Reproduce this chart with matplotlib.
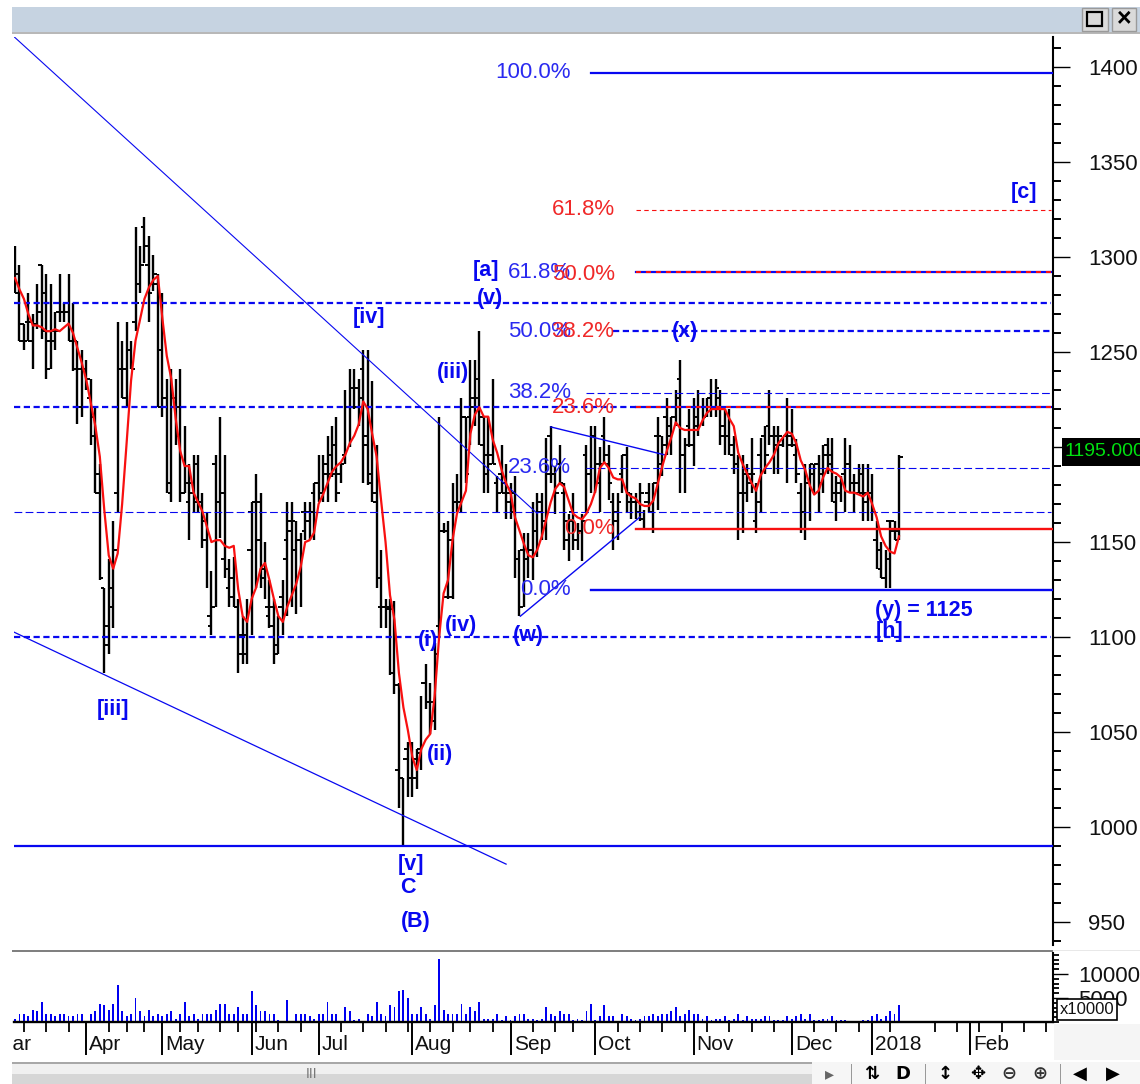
import matplotlib
matplotlib.use("Agg")
import matplotlib.pyplot as plt
import matplotlib.patches as patches
import matplotlib.ticker as mticker

plt.rcParams['font.family'] = ['Liberation Sans', 'DejaVu Sans']

# daily bars
highs = [1306, 1296, 1265, 1281, 1270, 1286, 1296, 1291, 1286, 1271,
         1291, 1276, 1291, 1276, 1256, 1251, 1246, 1236, 1221, 1191,
         1126, 1141, 1161, 1266, 1256, 1266, 1256, 1316, 1306, 1321,
         1311, 1301, 1291, 1281, 1236, 1241, 1236, 1241, 1211, 1191,
         1196, 1196, 1176, 1166, 1135, 1196, 1216, 1196, 1141, 1142,
         1120, 1111, 1120, 1171, 1186, 1176, 1150, 1130, 1120, 1111,
         1130, 1171, 1171, 1161, 1155, 1171, 1171, 1181, 1196, 1196,
         1206, 1211, 1216, 1191, 1230, 1241, 1241, 1236, 1251, 1251,
         1235, 1201, 1146, 1120, 1120, 1119, 1076, 1026, 1045, 1045,
         1041, 1069, 1086, 1076, 1097, 1216, 1160, 1161, 1181, 1186,
         1226, 1216, 1246, 1246, 1261, 1216, 1216, 1236, 1185, 1201,
         1191, 1181, 1185, 1146, 1155, 1155, 1171, 1176, 1176, 1205,
         1211, 1190, 1201, 1181, 1165, 1176, 1160, 1165, 1201, 1211,
         1211, 1200, 1216, 1201, 1176, 1176, 1196, 1200, 1176, 1176,
         1181, 1167, 1181, 1181, 1216, 1206, 1226, 1216, 1230, 1246,
         1205, 1220, 1226, 1230, 1226, 1226, 1236, 1236, 1230, 1220,
         1220, 1206, 1196, 1196, 1191, 1205, 1181, 1205, 1211, 1230,
         1211, 1211, 1205, 1226, 1220, 1204, 1181, 1191, 1191, 1191,
         1196, 1201, 1205, 1205, 1185, 1185, 1205, 1201, 1186, 1191,
         1191, 1191, 1186, 1161, 1150, 1146, 1161, 1161, 1196]
lows = [1281, 1256, 1251, 1256, 1241, 1262, 1257, 1236, 1241, 1251,
        1266, 1266, 1256, 1240, 1212, 1216, 1230, 1201, 1176, 1130,
        1081, 1091, 1105, 1166, 1226, 1221, 1241, 1261, 1281, 1297,
        1266, 1282, 1221, 1216, 1176, 1171, 1201, 1171, 1176, 1151,
        1166, 1166, 1147, 1126, 1101, 1116, 1152, 1131, 1116, 1116,
        1081, 1086, 1086, 1101, 1126, 1126, 1120, 1105, 1086, 1091,
        1101, 1111, 1116, 1112, 1116, 1151, 1151, 1151, 1171, 1171,
        1171, 1184, 1171, 1181, 1191, 1200, 1220, 1211, 1181, 1180,
        1171, 1126, 1105, 1105, 1080, 1070, 1010, 990, 1016, 1016,
        1020, 1030, 1062, 1049, 1051, 1100, 1155, 1120, 1120, 1166,
        1166, 1181, 1201, 1211, 1201, 1176, 1176, 1191, 1166, 1176,
        1162, 1162, 1131, 1111, 1116, 1131, 1130, 1142, 1151, 1151,
        1181, 1165, 1181, 1146, 1140, 1146, 1146, 1140, 1166, 1176,
        1176, 1166, 1191, 1172, 1146, 1151, 1176, 1166, 1162, 1162,
        1161, 1157, 1166, 1155, 1167, 1185, 1196, 1196, 1211, 1176,
        1176, 1200, 1190, 1206, 1211, 1216, 1216, 1216, 1201, 1196,
        1196, 1186, 1151, 1155, 1171, 1176, 1155, 1166, 1186, 1201,
        1186, 1186, 1200, 1181, 1200, 1181, 1155, 1151, 1161, 1176,
        1166, 1176, 1186, 1171, 1161, 1171, 1166, 1176, 1166, 1176,
        1161, 1161, 1161, 1136, 1131, 1126, 1126, 1151, 1151]
opens = [1301, 1291, 1265, 1266, 1266, 1265, 1296, 1281, 1256, 1261,
         1271, 1271, 1276, 1256, 1256, 1241, 1241, 1226, 1216, 1186,
         1126, 1106, 1126, 1176, 1241, 1241, 1251, 1266, 1286, 1316,
         1296, 1286, 1286, 1251, 1226, 1176, 1226, 1221, 1176, 1171,
         1181, 1191, 1171, 1151, 1106, 1191, 1171, 1141, 1126, 1131,
         1116, 1101, 1101, 1166, 1171, 1151, 1136, 1111, 1116, 1096,
         1121, 1151, 1156, 1146, 1151, 1156, 1161, 1176, 1181, 1176,
         1191, 1196, 1186, 1186, 1196, 1221, 1231, 1231, 1241, 1201,
         1181, 1171, 1116, 1116, 1115, 1115, 1030, 1026, 1041, 1026,
         1036, 1039, 1076, 1066, 1056, 1106, 1156, 1121, 1151, 1171,
         1171, 1216, 1216, 1221, 1226, 1201, 1186, 1196, 1181, 1186,
         1181, 1171, 1176, 1141, 1146, 1141, 1146, 1156, 1166, 1161,
         1206, 1186, 1191, 1176, 1151, 1161, 1151, 1156, 1196, 1186,
         1206, 1181, 1206, 1191, 1171, 1161, 1186, 1196, 1171, 1171,
         1171, 1162, 1176, 1166, 1206, 1191, 1216, 1206, 1221, 1236,
         1196, 1211, 1201, 1216, 1221, 1221, 1226, 1221, 1226, 1211,
         1206, 1196, 1191, 1176, 1176, 1186, 1161, 1196, 1206, 1211,
         1206, 1206, 1201, 1221, 1206, 1196, 1176, 1166, 1181, 1186,
         1191, 1186, 1201, 1191, 1171, 1181, 1186, 1191, 1181, 1181,
         1186, 1171, 1176, 1151, 1136, 1131, 1161, 1156, 1156]
closes = [1281, 1256, 1256, 1256, 1265, 1271, 1261, 1241, 1256, 1261,
          1271, 1271, 1256, 1241, 1221, 1221, 1236, 1206, 1176, 1131,
          1096, 1116, 1146, 1241, 1226, 1251, 1241, 1276, 1296, 1306,
          1281, 1291, 1221, 1221, 1181, 1221, 1206, 1176, 1181, 1176,
          1171, 1171, 1161, 1111, 1116, 1171, 1176, 1136, 1121, 1116,
          1091, 1091, 1146, 1171, 1171, 1131, 1116, 1106, 1091, 1116,
          1141, 1161, 1161, 1151, 1166, 1166, 1166, 1181, 1176, 1186,
          1186, 1201, 1176, 1191, 1221, 1221, 1221, 1226, 1206, 1186,
          1176, 1131, 1116, 1116, 1081, 1075, 1026, 1036, 1026, 1026,
          1041, 1076, 1066, 1066, 1091, 1156, 1156, 1121, 1171, 1171,
          1216, 1186, 1226, 1236, 1216, 1196, 1191, 1191, 1176, 1176,
          1176, 1166, 1141, 1116, 1141, 1146, 1156, 1171, 1161, 1186,
          1186, 1176, 1181, 1161, 1166, 1151, 1156, 1161, 1186, 1206,
          1191, 1191, 1196, 1181, 1166, 1171, 1196, 1176, 1171, 1166,
          1176, 1171, 1166, 1181, 1206, 1201, 1211, 1216, 1226, 1196,
          1201, 1201, 1211, 1221, 1216, 1226, 1221, 1231, 1206, 1206,
          1201, 1191, 1176, 1186, 1181, 1186, 1171, 1206, 1196, 1206,
          1201, 1206, 1206, 1201, 1201, 1186, 1166, 1181, 1191, 1191,
          1181, 1196, 1196, 1176, 1176, 1186, 1191, 1181, 1176, 1176,
          1176, 1176, 1166, 1146, 1131, 1141, 1161, 1151, 1195]
moving_avg = [1289, 1283, 1278, 1270, 1264, 1264, 1263, 1261, 1261, 1262,
              1261, 1263, 1265, 1260, 1252, 1244, 1235, 1223, 1211, 1195,
              1167, 1143, 1136, 1144, 1170, 1202, 1235, 1256, 1267, 1278,
              1284, 1288, 1290, 1268, 1248, 1236, 1215, 1198, 1190, 1190,
              1176, 1171, 1166, 1158, 1150, 1151, 1151, 1148, 1147, 1148,
              1125, 1111, 1108, 1120, 1126, 1136, 1139, 1130, 1120, 1111,
              1108, 1116, 1122, 1128, 1137, 1150, 1151, 1155, 1170, 1175,
              1181, 1187, 1190, 1192, 1196, 1202, 1206, 1212, 1224, 1220,
              1207, 1195, 1172, 1150, 1122, 1109, 1081, 1063, 1051, 1037,
              1030, 1041, 1046, 1049, 1069, 1100, 1123, 1130, 1151, 1165,
              1171, 1177, 1207, 1217, 1221, 1216, 1216, 1204, 1197, 1188,
              1181, 1176, 1163, 1156, 1149, 1143, 1142, 1146, 1153, 1162,
              1171, 1178, 1181, 1179, 1172, 1165, 1163, 1162, 1165, 1170,
              1177, 1189, 1192, 1189, 1184, 1183, 1183, 1176, 1174, 1173,
              1170, 1169, 1169, 1172, 1181, 1190, 1198, 1205, 1213, 1210,
              1209, 1209, 1209, 1209, 1214, 1218, 1220, 1220, 1220, 1220,
              1215, 1211, 1197, 1191, 1186, 1181, 1177, 1185, 1189, 1192,
              1196, 1202, 1205, 1208, 1207, 1202, 1193, 1188, 1180, 1175,
              1177, 1184, 1189, 1187, 1186, 1184, 1177, 1176, 1176, 1175,
              1174, 1176, 1170, 1163, 1153, 1148, 1145, 1144, 1153]
volumes = [700, 1600, 1600, 1200, 2600, 2300, 4100, 1700, 1600, 1200,
           1700, 1600, 1200, 1200, 1600, 1600, 150, 1600, 2300, 3700,
           3500, 2600, 3700, 7800, 2300, 1200, 1600, 5100, 2300, 1200,
           2600, 1200, 1600, 1200, 1600, 2300, 700, 1600, 4100, 1200,
           1700, 700, 1600, 1600, 1600, 2600, 3700, 3700, 1700, 1700,
           3100, 1600, 1600, 6400, 3500, 2300, 2300, 1600, 1700, 350,
           200, 4500, 0, 1600, 1600, 1600, 1200, 700, 1700, 1700,
           4100, 1600, 1700, 0, 3100, 2300, 350, 700, 0, 1700,
           1200, 4100, 1700, 1200, 3500, 3100, 6400, 6600, 4900, 1600,
           1700, 3100, 1700, 700, 3500, 13200, 2600, 1700, 1700, 1700,
           3700, 1600, 3100, 2300, 4100, 700, 700, 700, 1700, 350,
           1200, 350, 1200, 1600, 1600, 700, 700, 350, 700, 3100,
           1700, 1200, 2300, 1600, 1700, 500, 700, 350, 2300, 3700,
           350, 1200, 3500, 1200, 1200, 0, 1600, 1200, 700, 350,
           700, 1200, 1200, 1600, 1200, 1700, 1700, 2300, 3100, 1200,
           1600, 2600, 1600, 1600, 700, 1200, 350, 700, 700, 1200,
           350, 700, 1600, 350, 1200, 700, 700, 700, 1200, 1200,
           350, 350, 350, 1200, 700, 1200, 1700, 700, 1700, 350,
           350, 700, 700, 1200, 350, 350, 350, 200, 0, 0,
           350, 350, 1200, 1700, 700, 1200, 2300, 1600, 3500]

month_labels = ['Mar', 'Apr', 'May', 'Jun', 'Jul', 'Aug', 'Sep', 'Oct', 'Nov', 'Dec', '2018', 'Feb']
month_bars = [-5, 16, 33, 53, 68, 89, 111, 130, 152, 174, 192, 214]
week_bars = [2, 7, 12, 21, 25, 29, 37, 41, 46, 50, 54, 59, 64, 73, 78, 83, 88, 93, 98, 102,
             107, 116, 121, 125, 135, 140, 145, 150, 155, 160, 165, 170, 179, 184, 189,
             196, 206, 211, 216, 221, 226, 231]

# fibonacci levels and wave counts
full_dash = [1276, 1100]
thin_dash = [1228.5, 1189]
BLUE = '#0808F0'
RED = '#F81010'

fig = plt.figure(figsize=(11.4, 10.84), dpi=100, facecolor='white')


def px_rect(left, top, right, bottom):
    return [left / 1140, 1 - bottom / 1084, (right - left) / 1140, (bottom - top) / 1084]


ax = fig.add_axes(px_rect(14, 37, 1053, 945))
ax2 = fig.add_axes(px_rect(14, 953, 1053, 1022))
XMIN, XMAX = -0.22, 232.5
bars = list(range(len(highs)))

# price bars
ax.vlines(bars, lows, highs, color='black', lw=1.7, zorder=2)
ax.hlines(opens, [b - 0.8 for b in bars], bars, color='black', lw=1.4, zorder=2)
ax.hlines(closes, bars, [b + 0.8 for b in bars], color='black', lw=1.4, zorder=2)

for lev in full_dash:
    ax.plot([XMIN, XMAX - 0.5], [lev, lev], color=BLUE, lw=1.6, ls=(0, (2.8, 1.6)), zorder=3)
ax.plot([XMIN, 139], [1221, 1221], color=BLUE, lw=1.6, ls=(0, (2.8, 1.6)), zorder=3)
ax.plot([XMIN, XMAX - 0.5], [1166, 1166], color=BLUE, lw=0.8, ls=(0, (7, 3)), zorder=3)
for lev in thin_dash:
    ax.plot([128, XMAX - 0.5], [lev, lev], color=BLUE, lw=0.8, ls=(0, (7, 3)), zorder=3)
ax.plot([134, XMAX - 0.5], [1261, 1261], color=BLUE, lw=1.6, ls=(0, (2.8, 1.6)), zorder=3)
# red dashes sit on a solid blue line at the two shared levels
for lev in [1292, 1221]:
    ax.plot([139, XMAX - 0.5], [lev, lev], color=BLUE, lw=1.6, zorder=3)
    ax.plot([139, XMAX - 0.5], [lev, lev], color=RED, lw=1.5, ls=(0, (2.4, 2.4)), zorder=4)
ax.plot([139, XMAX - 0.5], [1324.8, 1324.8], color=RED, lw=0.8, ls=(0, (4, 3)), zorder=4)
ax.plot([139, XMAX], [1157, 1157], color=RED, lw=1.7, zorder=4)
ax.plot([129, XMAX], [1397, 1397], color=BLUE, lw=1.6, zorder=3)
ax.plot([129, XMAX], [1125, 1125], color=BLUE, lw=1.7, zorder=3)
ax.plot([XMIN, XMAX], [990, 990], color=BLUE, lw=1.6, zorder=3)

# trend lines
ax.plot([XMIN, 117], [1416, 1165], color=BLUE, lw=0.8, zorder=3)
ax.plot([XMIN, 110], [1102.6, 980.5], color=BLUE, lw=0.9, zorder=3)
ax.plot([120, 145.7], [1210.6, 1195.8], color=BLUE, lw=1.0, zorder=3)
ax.plot([113.2, 140], [1111, 1163.2], color=BLUE, lw=1.0, zorder=3)

ax.plot(bars, moving_avg, color=RED, lw=1.6, zorder=5)

pct_blue = [('100.0%', 1397), ('61.8%', 1292), ('50.0%', 1261), ('38.2%', 1228.5),
            ('23.6%', 1189), ('0.0%', 1125)]
pct_red = [('61.8%', 1324.8), ('50.0%', 1291), ('38.2%', 1261), ('23.6%', 1221), ('0.0%', 1157)]
for label, lev in pct_blue:
    ax.text(124.5, lev, label, color='#2A2AF0', fontsize=16, ha='right', va='center', zorder=6)
for label, lev in pct_red:
    ax.text(134.3, lev, label, color='#F02828', fontsize=16, ha='right', va='center', zorder=6)

wave_labels = [('[iv]', 79.4, 1268), ('[iii]', 22, 1062), ('[v]', 88.8, 980.5), ('C', 88, 968),
               ('(B)', 89.7, 950.5), ('(i)', 92.4, 1098), ('(ii)', 95.3, 1038), ('(iii)', 98, 1239),
               ('(iv)', 100, 1106), ('(v)', 106.3, 1278), ('(w)', 115, 1101), ('(x)', 150, 1261),
               ('[a]', 105.5, 1293), ('[h]', 196, 1103), ('[c]', 226, 1334)]
for label, xb, lev in wave_labels:
    ax.text(xb, lev, label, color=BLUE, fontsize=15.5, fontweight='bold', ha='center', va='center', zorder=6)
ax.text(203.5, 1114, '(y) = 1125', color=BLUE, fontsize=15.5, fontweight='bold', ha='center', va='center', zorder=6)

ax.set_xlim(XMIN, XMAX)
ax.set_ylim(1435.3 - 945 / 1.9, 1435.3 - 37 / 1.9)
for side in ['left', 'top', 'bottom']:
    ax.spines[side].set_visible(False)
ax.spines['right'].set_linewidth(1.5)
ax.set_xticks([])
ax.yaxis.tick_right()
ax.yaxis.set_major_locator(mticker.MultipleLocator(50))
ax.yaxis.set_minor_locator(mticker.MultipleLocator(10))
ax.tick_params(axis='y', which='major', length=12.2, width=1, pad=13, labelsize=16, labelcolor='#111111')
ax.tick_params(axis='y', which='minor', length=5.5, width=1.4)

# volume
ax2.bar(range(len(volumes)), volumes, width=0.42, color='#0000F0')
ax2.set_xlim(XMIN, XMAX)
ax2.set_ylim(0, 14375)
for side in ['left', 'top']:
    ax2.spines[side].set_visible(False)
ax2.spines['right'].set_linewidth(1.5)
ax2.spines['bottom'].set_linewidth(1.7)
ax2.yaxis.tick_right()
ax2.yaxis.set_major_locator(mticker.MultipleLocator(5000))
ax2.yaxis.set_minor_locator(mticker.MultipleLocator(1000))
ax2.set_yticks([5000, 10000])
ax2.tick_params(axis='y', which='major', length=11, width=1, pad=7, labelsize=16, labelcolor='#111111')
ax2.tick_params(axis='y', which='minor', length=4.5, width=1.3)
ax2.set_xticks([b for b in month_bars if b >= 0])
ax2.set_xticklabels([])
ax2.set_xticks(week_bars, minor=True)
ax2.tick_params(axis='x', which='major', length=24, width=1.4)
ax2.tick_params(axis='x', which='minor', length=7.5, width=1.3)
for label, b in zip(month_labels, month_bars):
    ax2.annotate(label, (b, 0), xycoords=('data', 'axes fraction'), xytext=(3, -22),
                 textcoords='offset pixels', fontsize=15, color='#111111', ha='left', va='center',
                 annotation_clip=False)

# window chrome, in picture pixels
top = fig.add_axes([0, 0, 1, 1], zorder=10)
top.set_xlim(0, 1140)
top.set_ylim(1084, 0)
top.axis('off')
top.patch.set_alpha(0)


def box(x0, y0, x1, y1, **kw):
    top.add_patch(patches.Rectangle((x0, y0), x1 - x0, y1 - y0, **kw))


box(0, 1024, 12, 1062, fc='white', ec='none')
box(12, 7, 1140, 32, fc='#C6D3E1', ec='none')
box(12, 32, 1140, 34, fc='#B8B8B8', ec='none')
box(1082, 8, 1108, 31, fc='#DADADA', ec='#9A9A9A', lw=1)
box(1112, 8, 1136, 31, fc='#DADADA', ec='#9A9A9A', lw=1)
box(1087, 12, 1102, 26, fc='none', ec='black', lw=1.6)
top.text(1124, 19, '\u00d7', fontsize=18, fontweight='bold', ha='center', va='center', color='black')
box(12, 950, 1053, 952, fc='#808080', ec='none')
box(1053, 950, 1140, 951, fc='#E8E8E8', ec='none')

box(1062, 438, 1140, 466, fc='black', ec='none')
top.text(1064, 452, '1195.000', color='#00E010', fontsize=14, ha='left', va='center', clip_on=True)
box(1054, 1024, 1140, 1060, fc='#F5F5F5', ec='none')
box(1057, 999, 1117, 1020, fc='white', ec='black', lw=1.2)
top.text(1087, 1010, 'x10000', fontsize=12, ha='center', va='center', color='#111111')

# scroll bar and toolbar
box(12, 1062, 812, 1064, fc='#A8A8A8', ec='none')
box(12, 1064, 812, 1074, fc='#F0F0F0', ec='none')
box(12, 1074, 812, 1084, fc='#D6D6D6', ec='none')
box(812, 1062, 1140, 1084, fc='#F6F6F6', ec='none')
top.text(312, 1074, 'III', fontsize=10, ha='center', va='center', color='#777777')
for xs in [851, 925, 1060]:
    box(xs, 1064, xs + 1, 1084, fc='#999999', ec='none')
toolbar_icons = [('\u25b8', 829, '#666666'), ('\u21c5', 872, 'black'), ('D', 903, 'black'),
                 ('\u2195', 945, 'black'), ('\u2725', 978, 'black'), ('\u2296', 1009, '#333333'),
                 ('\u2295', 1040, '#333333'), ('\u25c0', 1080, 'black'), ('\u25b6', 1113, 'black')]
for glyph, xs, col in toolbar_icons:
    top.text(xs, 1074, glyph, fontsize=13, fontweight='bold', ha='center', va='center', color=col,
             family=['DejaVu Sans'])
top.text(1139, 1074, 'E', fontsize=13, ha='left', va='center', color='black')

fig.savefig('out.png', dpi=100)
